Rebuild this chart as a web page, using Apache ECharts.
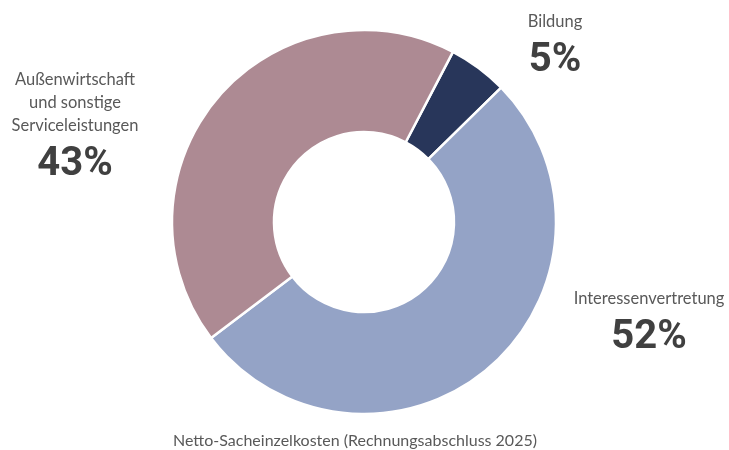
<!DOCTYPE html>
<html>
<head>
<meta charset="utf-8">
<script src="https://cdn.jsdelivr.net/npm/echarts@6/dist/echarts.min.js"></script>
<style>
  html, body { margin: 0; padding: 0; background: #fff; }
  #chart { width: 729px; height: 450px; }
</style>
</head>
<body>
<div id="chart"></div>
<script>
// data
const categories = ['Bildung', 'Interessenvertretung', 'Außenwirtschaft\nund sonstige\nServiceleistungen'];
const shares = [5, 52, 43];
const sliceColors = ['#28365a', '#94a3c6', '#ad8a93'];
const chartTitle = 'Netto-Sacheinzelkosten (Rechnungsabschluss 2025)';

// where each label block sits (centre of the block)
const labelSpots = [
  { x: 555, y: 49 },
  { x: 649, y: 326 },
  { x: 75, y: 130 }
];

const chart = echarts.init(document.getElementById('chart'));

chart.setOption({
  animation: false,
  title: {
    text: chartTitle,
    left: 350,
    top: 428,
    textAlign: 'center',
    textStyle: {
      fontFamily: 'Lato',
      fontSize: 16,
      fontWeight: 'normal',
      color: '#595959'
    }
  },
  series: [
    {
      type: 'pie',
      center: [364, 222],
      radius: [90, 192],
      startAngle: 62.4,
      clockwise: true,
      itemStyle: {
        borderColor: '#fff',
        borderWidth: 2.5
      },
      labelLine: { show: false },
      label: {
        show: true,
        position: 'outside',
        formatter: p => '{n|' + p.name + '}\n{v|' + p.value + '%}',
        rich: {
          n: {
            fontFamily: 'Lato',
            fontSize: 16.5,
            color: '#595959',
            lineHeight: 23,
            align: 'center'
          },
          v: {
            fontFamily: 'Roboto',
            fontSize: 40,
            fontWeight: 'bold',
            color: '#404040',
            lineHeight: 54,
            align: 'center'
          }
        }
      },
      labelLayout: p => ({
        x: labelSpots[p.dataIndex].x,
        y: labelSpots[p.dataIndex].y,
        align: 'center',
        verticalAlign: 'middle'
      }),
      data: categories.map((name, i) => ({
        name: name,
        value: shares[i],
        itemStyle: { color: sliceColors[i] }
      }))
    }
  ]
});
</script>
</body>
</html>
